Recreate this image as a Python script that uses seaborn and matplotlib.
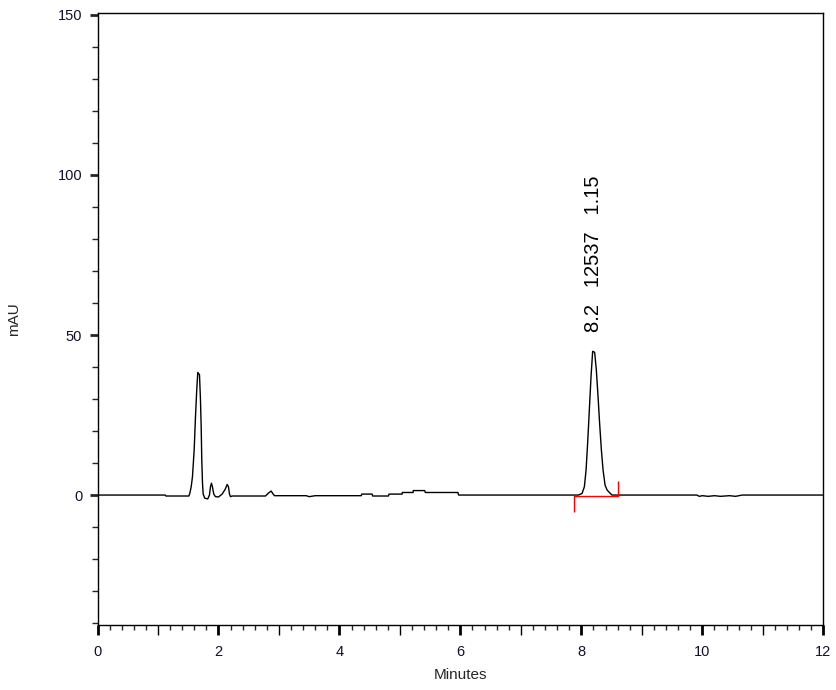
import matplotlib
matplotlib.use("Agg")
import matplotlib.pyplot as plt
import matplotlib.ticker as mticker
import seaborn as sns
import pandas as pd

# ---- data ----
time_min = [0.0, 1.12, 1.13, 1.51, 1.526, 1.549, 1.570, 1.598, 1.620, 1.641, 1.658,
            1.686, 1.702, 1.714, 1.724, 1.736, 1.747, 1.774, 1.823, 1.851, 1.868,
            1.884, 1.900, 1.922, 1.950, 2.000, 2.061, 2.111, 2.144, 2.165, 2.182,
            2.198, 2.226, 2.777, 2.831, 2.871, 2.904, 2.926, 3.45, 3.50, 3.60,
            4.36, 4.37, 4.54, 4.55, 4.81, 4.82, 5.036, 5.04, 5.218, 5.22, 5.41,
            5.42, 5.96, 5.97, 7.95, 8.012, 8.050, 8.078, 8.104, 8.132, 8.160,
            8.187, 8.220, 8.248, 8.276, 8.302, 8.331, 8.359, 8.392, 8.425, 8.468,
            8.507, 9.91, 9.95, 10.0, 10.1, 10.2, 10.3, 10.45, 10.55, 10.66, 12.0]
signal_mau = [0.0, 0.0, -0.3, -0.3, 0.5, 2.6, 5.7, 14.0, 24.5, 33.0, 38.3,
              37.6, 30.0, 21.4, 11.0, 3.7, 0.3, -1.0, -1.2, 0.0, 2.6,
              3.7, 2.6, 0.3, -0.5, -0.6, 0.3, 1.8, 3.3, 2.6, 0.3,
              -0.5, -0.3, -0.3, 0.7, 1.25, 0.3, -0.2, -0.2, -0.5, -0.2,
              -0.2, 0.3, 0.3, -0.3, -0.3, 0.3, 0.3, 0.8, 0.8, 1.4, 1.4,
              0.8, 0.8, 0.0, 0.0, 0.5, 2.6, 7.8, 16.2, 26.6, 37.0,
              44.9, 44.6, 39.0, 30.8, 22.4, 14.1, 7.8, 3.1, 1.6, 0.7,
              0.0, 0.0, -0.4, -0.2, -0.4, -0.2, -0.4, -0.2, -0.4, 0.0, 0.0]

peak_rt = 8.2
peak_area = 12537
peak_factor = 1.15
peak_apex = 44.9
integ_start = 7.873
integ_end = 8.600
integ_level = -0.3
start_marker = [-0.3, -5.2]
end_marker = [-0.3, 4.4]

x_ticks = [0, 2, 4, 6, 8, 10, 12]
y_ticks = [0, 50, 100, 150]

# ---- plotting ----
sns.set_style("ticks")
plt.rcParams["font.family"] = ["Liberation Sans", "DejaVu Sans"]

fig = plt.figure(figsize=(8.37, 6.90), dpi=100)
ax = fig.add_axes([0.1165, 0.0942, 0.8671, 0.8874])

df = pd.DataFrame({"Minutes": time_min, "mAU": signal_mau})
sns.lineplot(data=df, x="Minutes", y="mAU", sort=False, estimator=None,
             color="black", lw=1.0, ax=ax)

# integration baseline and markers
ax.plot([integ_start, integ_end], [integ_level, integ_level], color="red", lw=1.0)
ax.vlines([integ_start], start_marker[1], start_marker[0], color="red", lw=1.0)
ax.vlines([integ_end], end_marker[0], end_marker[1], color="red", lw=1.0)

ax.text(peak_rt, peak_apex + 6.0, f"{peak_rt}   {peak_area}   {peak_factor}",
        rotation=90, ha="center", va="bottom", fontsize=14.5, color="black")

ax.set_xlim(0, 12)
ax.set_ylim(-40.6, 150.7)

ax.xaxis.set_major_locator(mticker.MultipleLocator(1))
ax.xaxis.set_major_formatter(mticker.FuncFormatter(
    lambda v, p: f"{int(round(v))}" if int(round(v)) in x_ticks else ""))
ax.xaxis.set_minor_locator(mticker.MultipleLocator(0.2))
ax.yaxis.set_major_locator(mticker.FixedLocator(y_ticks))
ax.yaxis.set_minor_locator(mticker.MultipleLocator(10))

ax.tick_params(axis="x", which="major", direction="out", length=7, width=1,
               pad=7.5, labelsize=10.5, colors="black", labelcolor="#101030")
ax.tick_params(axis="x", which="minor", direction="out", length=3.5, width=1)
ax.tick_params(axis="y", which="major", direction="out", length=6, width=2,
               pad=5, labelsize=10.5, labelcolor="#101030")
ax.tick_params(axis="y", which="minor", direction="out", length=4, width=1)

fig.canvas.draw()
for t in ax.xaxis.get_major_ticks():
    loc = t.get_loc()
    if int(round(loc)) in x_ticks:
        t.tick1line.set_markeredgewidth(2)

for s in ax.spines.values():
    s.set_visible(True)
    s.set_linewidth(1.0)
    s.set_color("black")

ax.set_xlabel("Minutes", fontsize=11)
ax.set_ylabel("mAU", fontsize=11)
ax.xaxis.set_label_coords(0.5, -0.070)
ax.xaxis.label.set_va("top")
ax.yaxis.set_label_coords(-0.106, 0.5)

fig.savefig("out.png", dpi=100)
